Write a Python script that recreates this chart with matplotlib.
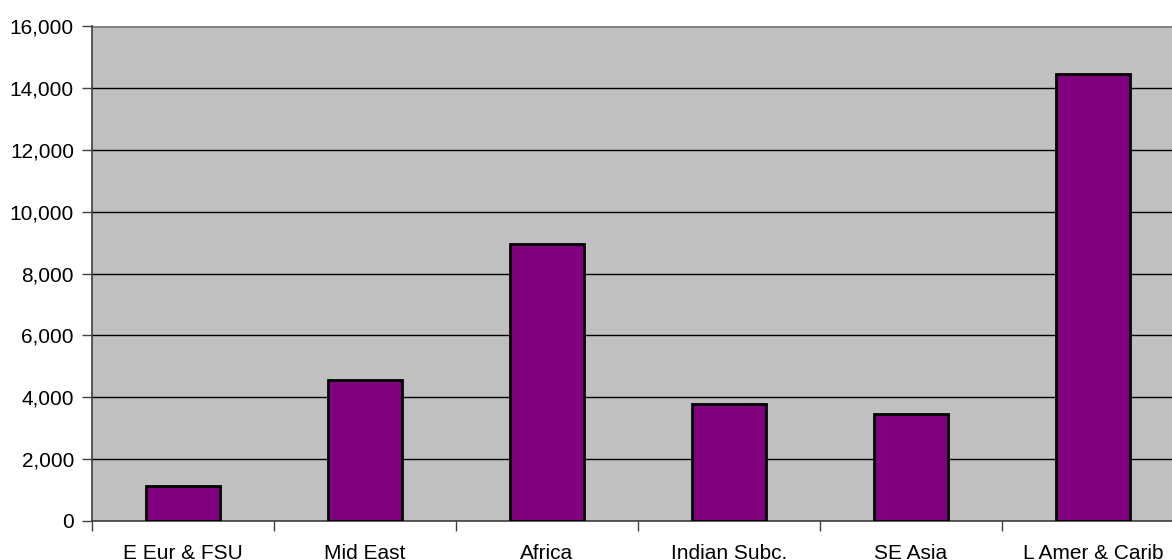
import matplotlib
matplotlib.use("Agg")
import matplotlib.pyplot as plt
import numpy as np

regions = ["E Eur & FSU", "Mid East", "Africa", "Indian Subc.", "SE Asia", "L Amer & Carib"]
values = [1130, 4550, 8950, 3780, 3450, 14450]
y_ticks = [0, 2000, 4000, 6000, 8000, 10000, 12000, 14000, 16000]

plt.rcParams["font.family"] = ["Liberation Sans", "DejaVu Sans"]

fig = plt.figure(figsize=(11.72, 5.6), dpi=100)
# plot area runs slightly past the right edge of the figure
ax = fig.add_axes([92 / 1172, 39 / 560, 1092 / 1172, 495 / 560])
ax.set_facecolor("#C0C0C0")

x = np.arange(len(regions))
ax.bar(x, values, width=0.41, color="#800080", edgecolor="black",
       linewidth=2, zorder=3)

ax.set_xlim(-0.5, len(regions) - 0.5)
ax.set_ylim(0, 16000)
ax.set_yticks(y_ticks)
ax.set_yticklabels([f"{v:,}" for v in y_ticks], fontsize=15)

# category labels centred, tick marks on the category boundaries
ax.set_xticks(x)
ax.set_xticklabels(regions, fontsize=15)
ax.tick_params(axis="x", length=0, pad=16.5)
ax.set_xticks(np.arange(len(regions) + 1) - 0.5, minor=True)
ax.tick_params(axis="x", which="minor", length=7, width=1, color="#404040")
ax.tick_params(axis="y", length=7, width=1, color="#404040", pad=6)

ax.yaxis.grid(True, color="black", linewidth=1, zorder=1)
ax.set_axisbelow(True)
# top gridline is drawn lighter
ax.get_ygridlines()[-1].set_color("#808080")
ax.get_ygridlines()[-1].set_linewidth(2)

for side in ["top", "right"]:
    ax.spines[side].set_visible(False)
ax.spines["left"].set_color("#404040")
ax.spines["bottom"].set_color("#404040")
ax.spines["left"].set_linewidth(1.2)
ax.spines["bottom"].set_linewidth(1.2)

fig.savefig("out.png", dpi=100)
